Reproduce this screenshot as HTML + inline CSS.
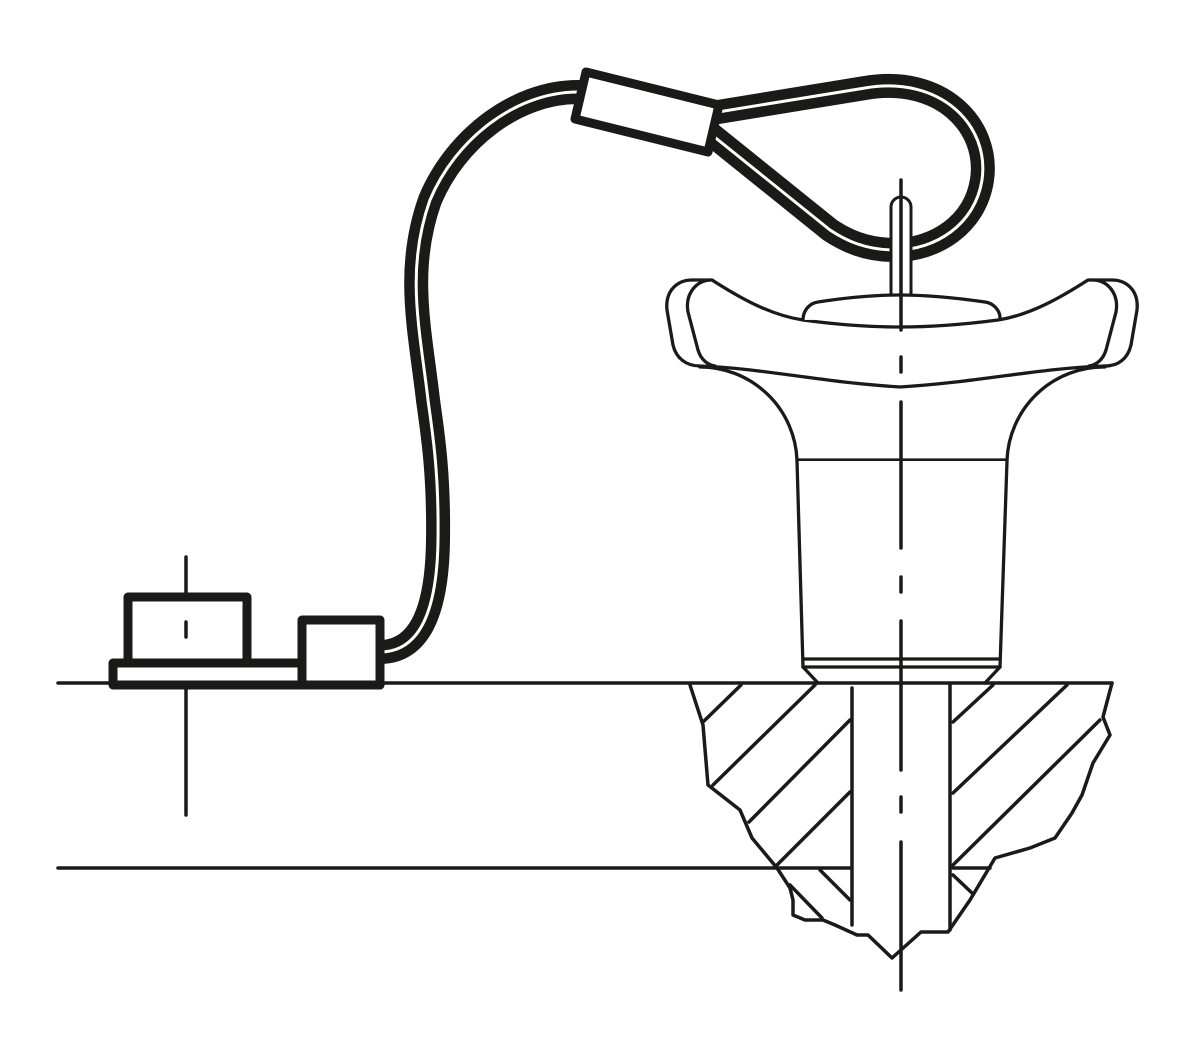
<!DOCTYPE html>
<html><head><meta charset="utf-8"><style>html,body{margin:0;padding:0;background:#fff}svg{display:block}</style></head>
<body>
<svg width="1200" height="1053" viewBox="0 0 1200 1053" xmlns="http://www.w3.org/2000/svg" fill="none" stroke="#1a1a18" stroke-linecap="round" stroke-linejoin="round">
<g>
<path d="M380,652 C415,652 437,620 438,540 C439,470 432,430 428,400 C420,330 405,270 430,200 C455,140 515,92 578,92" stroke-width="24"/>
<path d="M380,652 C415,652 437,620 438,540 C439,470 432,430 428,400 C420,330 405,270 430,200 C455,140 515,92 578,92" stroke="#fff" stroke-width="3"/>
<path d="M712,113 L865,88 C940,75 990,125 982,180 C975,225 935,250 895,250 C865,250 845,240 830,230 L712,135" stroke-width="24"/>
<path d="M712,113 L865,88 C940,75 990,125 982,180 C975,225 935,250 895,250 C865,250 845,240 830,230 L712,135" stroke="#fff" stroke-width="3"/>
</g>
<polygon points="586,72 719,105 708,152 575,119" fill="#fff" stroke-width="9"/>
<path d="M891,295 L891,207 A10,10 0 0 1 911,207 L911,295" fill="#fff" stroke-width="3"/>
<g stroke-width="3.3" fill="#fff">
<path d="M797,460 A97,97 0 0 0 700,367 L1105,367 A97,97 0 0 0 1007,460 Z"/>
<path d="M692,280 C678,280 665,290 667,310 L673,345 C676,358 686,366 700,366 C760,368 820,382 900,387 C980,382 1040,368 1105,366 C1119,366 1128,358 1131,345 L1137,310 C1139,290 1126,280 1112,280 L1088,280 C1060,298 1030,315 998,320 C960,325 930,327 900,327 C870,327 840,325 803,320 C770,315 740,298 712,280 Z"/>
<path d="M712,280 C695,280 685,295 688,312 L698,350 C701,360 708,365 715,366"/>
<path d="M1092,280 C1109,280 1119,295 1116,312 L1106,350 C1103,360 1096,365 1089,366"/>
<path d="M803,320 C803,310 810,303 818,302 C850,297 875,295 900,295 C925,295 950,297 985,302 C993,303 1000,310 1000,318"/>
<path d="M797,461 L1007,461"/>
<path d="M797,461 L803,667 L1000,667 L1007,461"/>
<path d="M803,659 L1000,659 M803,667 L818,683 M1000,667 L985,683" fill="none"/>
</g>
<g stroke-width="3.5">
<path d="M58,683 L1112,683"/>
<path d="M58,868 L850,868"/>
<path d="M690,685 L703,725 L708,785 L740,810 L752,838 L777,868 L790,888 L793,900 L793,915 L805,920 L823,920 L835,925 L857,935 L868,935 L892,958 L921,932 L948,932 L970,900 L995,858 L1030,848 L1055,838 L1072,813 L1082,795 L1093,763 L1110,735 L1103,717 L1112,683"/>
<path d="M852,688 L852,925 M950,685 L950,930"/>
<path d="M741,685 L703,722 M815,685 L713,785 M850,720 L749,822 M850,792 L777,865 M820,870 L850,900 M790,885 L822,918"/>
<path d="M953,722 L993,685 M953,793 L1067,685 M953,865 L1100,720 M953,875 L972,893 M953,868 L990,868"/>
</g>
<g stroke-width="9">
<rect x="113" y="663" width="267" height="22" fill="#fff"/>
<rect x="128" y="597" width="119" height="66" fill="#fff"/>
<rect x="302" y="620" width="78" height="65" fill="#fff"/>
</g>
<g stroke-width="3.5">
<path d="M186,557 L186,597 M186,622 L186,637 M186,685 L186,815"/>
<path d="M901,180 L901,330 M901,357 L901,372 M901,402 L901,548 M901,577 L901,592 M901,621 L901,770 M901,797 L901,812 M901,842 L901,990"/>
</g>
</svg>
</body></html>
